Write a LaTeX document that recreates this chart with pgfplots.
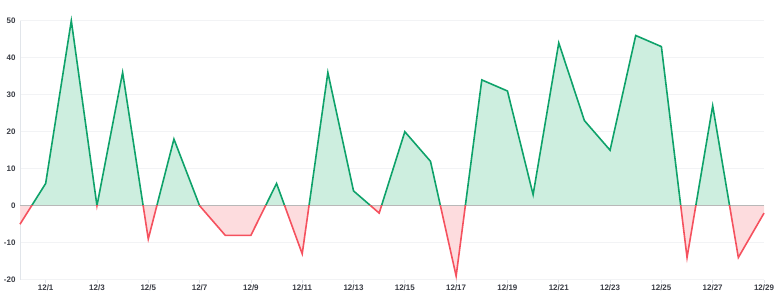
\documentclass[border=0pt]{standalone}
\usepackage{pgfplots}
\pgfplotsset{compat=1.18}
\usepackage{fontspec}
\setmainfont{Liberation Sans}
\definecolor{gline}{HTML}{0EA26A}
\definecolor{gfill}{HTML}{CDEEDF}
\definecolor{rline}{HTML}{F5515E}
\definecolor{rfill}{HTML}{FDDCDE}
\definecolor{gridc}{HTML}{F2F3F5}
\definecolor{axc}{HTML}{E1E5EA}
\definecolor{txt}{HTML}{3A3D45}
\begin{document}
\begin{tikzpicture}
\begin{axis}[
  at={(0,0)}, anchor=south west,
  scale only axis, width=744bp, height=259bp,
  xmin=0, xmax=29, ymin=-20, ymax=50,
  axis x line*=bottom, axis y line*=left,
  x axis line style={draw=none},
  y axis line style={draw=axc, line width=1pt},
  xtick={1,3,...,29},
  xticklabels={12/1,12/3,12/5,12/7,12/9,12/11,12/13,12/15,12/17,12/19,12/21,12/23,12/25,12/27,12/29},
  ytick={-20,-10,0,10,20,30,40,50},
  ymajorgrids, grid style={draw=gridc, line width=0.8pt},
  major tick length=3pt,
  xtick style={draw=axc, line width=0.8pt},
  ytick style={draw=none},
  tick align=outside,
  tick label style={font=\fontsize{8}{9}\selectfont\bfseries, text=txt},
  /pgf/number format/assume math mode=true,
  xticklabel style={yshift=1pt},
  yticklabel style={xshift=2pt},
  clip=false,
]
\pgfplotstableread{
x y
0 -5
1 6
2 50
3 0
4 36
5 -9
6 18
7 0
8 -8
9 -8
10 6
11 -13
12 36
13 4
14 -2
15 20
16 12
17 -19
18 34
19 31
20 3
21 44
22 23
23 15
24 46
25 43
26 -14
27 27
28 -14
29 -2
}\datatable
\begin{scope}
\clip (axis cs:0,0) rectangle (axis cs:29,55);
\addplot[fill=gfill, draw=none] table {\datatable} \closedcycle;
\end{scope}
\begin{scope}
\clip (axis cs:0,-25) rectangle (axis cs:29,0);
\addplot[fill=rfill, draw=none] table {\datatable} \closedcycle;
\end{scope}
\addplot[draw=black!28, line width=0.8pt, forget plot] coordinates {(0,0) (29,0)};
\begin{scope}
\clip (axis cs:-1,0) rectangle (axis cs:30,55);
\addplot[draw=gline, line width=1.6pt, line join=miter, mark=none] table {\datatable};
\end{scope}
\begin{scope}
\clip (axis cs:-1,-25) rectangle (axis cs:30,0);
\addplot[draw=rline, line width=1.6pt, line join=miter, mark=none] table {\datatable};
\end{scope}
\end{axis}
\pgfresetboundingbox
\path (-20bp,-20bp) rectangle (764bp,279.7bp);
\end{tikzpicture}
\end{document}
